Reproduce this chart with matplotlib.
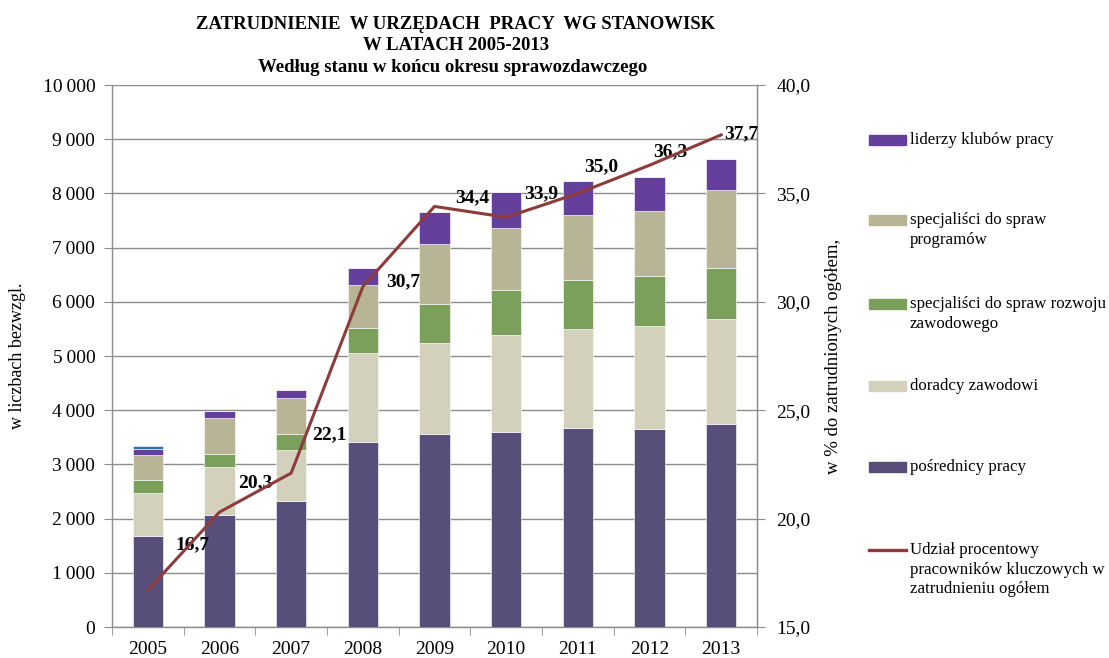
import numpy as np
import matplotlib
matplotlib.use("Agg")
import matplotlib.pyplot as plt
from matplotlib.ticker import FuncFormatter, FixedLocator
from matplotlib.patches import Rectangle
from matplotlib.lines import Line2D

plt.rcParams["font.family"] = ["Liberation Serif", "DejaVu Serif"]

years = ["2005", "2006", "2007", "2008", "2009", "2010", "2011", "2012", "2013"]
posrednicy = [1680, 2070, 2320, 3410, 3570, 3600, 3680, 3650, 3750]
doradcy = [800, 880, 950, 1645, 1670, 1790, 1820, 1900, 1930]
rozwoj = [230, 250, 285, 465, 725, 835, 910, 930, 950]
programy = [470, 660, 670, 790, 1095, 1145, 1200, 1200, 1440]
liderzy = [110, 130, 155, 310, 600, 650, 620, 620, 570]
inne = [45, 0, 0, 0, 0, 0, 0, 0, 0]
udzial = [16.7, 20.3, 22.1, 30.7, 34.4, 33.9, 35.0, 36.3, 37.7]

# przesunięcia etykiet linii (piksele)
label_off = [(45, 45), (36, 29), (38, 38), (40, 5), (38, 9), (35, 24), (23, 27), (21, 13), (20, 1)]

C_POS = "#574F7A"
C_DOR = "#D3D0BC"
C_ROZ = "#7BA05B"
C_PROG = "#B8B496"
C_LID = "#643F9B"
C_INNE = "#2E74B5"
C_LINE = "#8E3B3B"
GRID = "#8C8C8C"

W_PX, H_PX = 1109, 658
fig = plt.figure(figsize=(W_PX / 100, H_PX / 100), dpi=100)
ax = fig.add_axes([0.101, 0.0471, 0.5816, 0.8237])
x = np.arange(len(years))
w = 0.42

bottom = np.zeros(len(years))
for vals, col in [(posrednicy, C_POS), (doradcy, C_DOR), (rozwoj, C_ROZ),
                  (programy, C_PROG), (liderzy, C_LID), (inne, C_INNE)]:
    ax.bar(x, vals, w, bottom=bottom, color=col, edgecolor="white", linewidth=0.4, zorder=3)
    bottom += np.array(vals)

ax.set_xlim(-0.5, len(years) - 0.5)
ax.set_ylim(0, 10000)
ax.set_yticks(np.arange(0, 10001, 1000))
ax.yaxis.set_major_formatter(FuncFormatter(lambda v, p: f"{int(v):,}".replace(",", "\u2009") if v >= 1000 else f"{int(v)}"))
ax.set_xticks(x)
ax.set_xticklabels(years)
ax.xaxis.set_minor_locator(FixedLocator(np.arange(-0.5, len(years), 1.0)))
ax.tick_params(axis="x", which="major", length=0, labelsize=14, pad=10)
ax.tick_params(axis="x", which="minor", length=6, color=GRID)
ax.tick_params(axis="y", length=6, color=GRID, labelsize=14, pad=6)
ax.grid(axis="y", color=GRID, linewidth=1.0, zorder=0)
ax.spines["top"].set_visible(False)
for s in ["left", "bottom", "right"]:
    ax.spines[s].set_color(GRID)
    ax.spines[s].set_linewidth(1.0)
ax.set_ylabel("w liczbach bezwzgl.", fontsize=13, labelpad=12)

ax2 = ax.twinx()
ax2.set_ylim(15, 40)
ax2.set_yticks(np.arange(15, 40.1, 5))
ax2.yaxis.set_major_formatter(FuncFormatter(lambda v, p: f"{v:.1f}".replace(".", ",")))
ax2.tick_params(axis="y", length=6, color=GRID, labelsize=14, pad=8)
for s in ["top", "left", "bottom"]:
    ax2.spines[s].set_visible(False)
ax2.spines["right"].set_color(GRID)
ax2.plot(x, udzial, color=C_LINE, linewidth=2.2, zorder=5)
for xi, v, off in zip(x, udzial, label_off):
    ax2.annotate(f"{v:.1f}".replace(".", ","), (xi, v), xytext=off, textcoords="offset pixels",
                 ha="center", va="center", fontsize=14, fontweight="bold")
ax2.set_ylabel("w % do zatrudnionych ogółem,", fontsize=13.5, labelpad=10)

fig.text(0.411, 0.9635, "ZATRUDNIENIE  W URZĘDACH  PRACY  WG STANOWISK",
         ha="center", va="center", fontsize=13.5, fontweight="bold")
fig.text(0.411, 0.9316, "W LATACH 2005-2013",
         ha="center", va="center", fontsize=13.5, fontweight="bold")
fig.text(0.4085, 0.8967, "Według stanu w końcu okresu sprawozdawczego",
         ha="center", va="center", fontsize=13.5, fontweight="bold")

# legenda rysowana ręcznie: znacznik przy pierwszym wierszu opisu
leg_labels = ["liderzy klubów pracy", "specjaliści do spraw\nprogramów",
              "specjaliści do spraw rozwoju\nzawodowego", "doradcy zawodowi", "pośrednicy pracy",
              "Udział procentowy\npracowników kluczowych w\nzatrudnieniu ogółem"]
leg_colors = [C_LID, C_PROG, C_ROZ, C_DOR, C_POS, C_LINE]
leg_y = [140, 220, 304, 386, 467, 550]  # piksele od góry, pierwszy wiersz
for i, (lab, col, yc) in enumerate(zip(leg_labels, leg_colors, leg_y)):
    yf = 1 - yc / H_PX
    if i < 5:
        fig.add_artist(Rectangle((869 / W_PX, yf - 5 / H_PX), 37 / W_PX, 10 / H_PX,
                                 transform=fig.transFigure, color=col))
    else:
        fig.add_artist(Line2D([869 / W_PX, 906 / W_PX], [yf, yf], transform=fig.transFigure,
                              color=col, linewidth=2.4))
    fig.text(910 / W_PX, 1 - (yc - 8) / H_PX, lab, ha="left", va="top",
             fontsize=12.2, linespacing=1.3)

fig.savefig("out.png", dpi=100, facecolor="white")
